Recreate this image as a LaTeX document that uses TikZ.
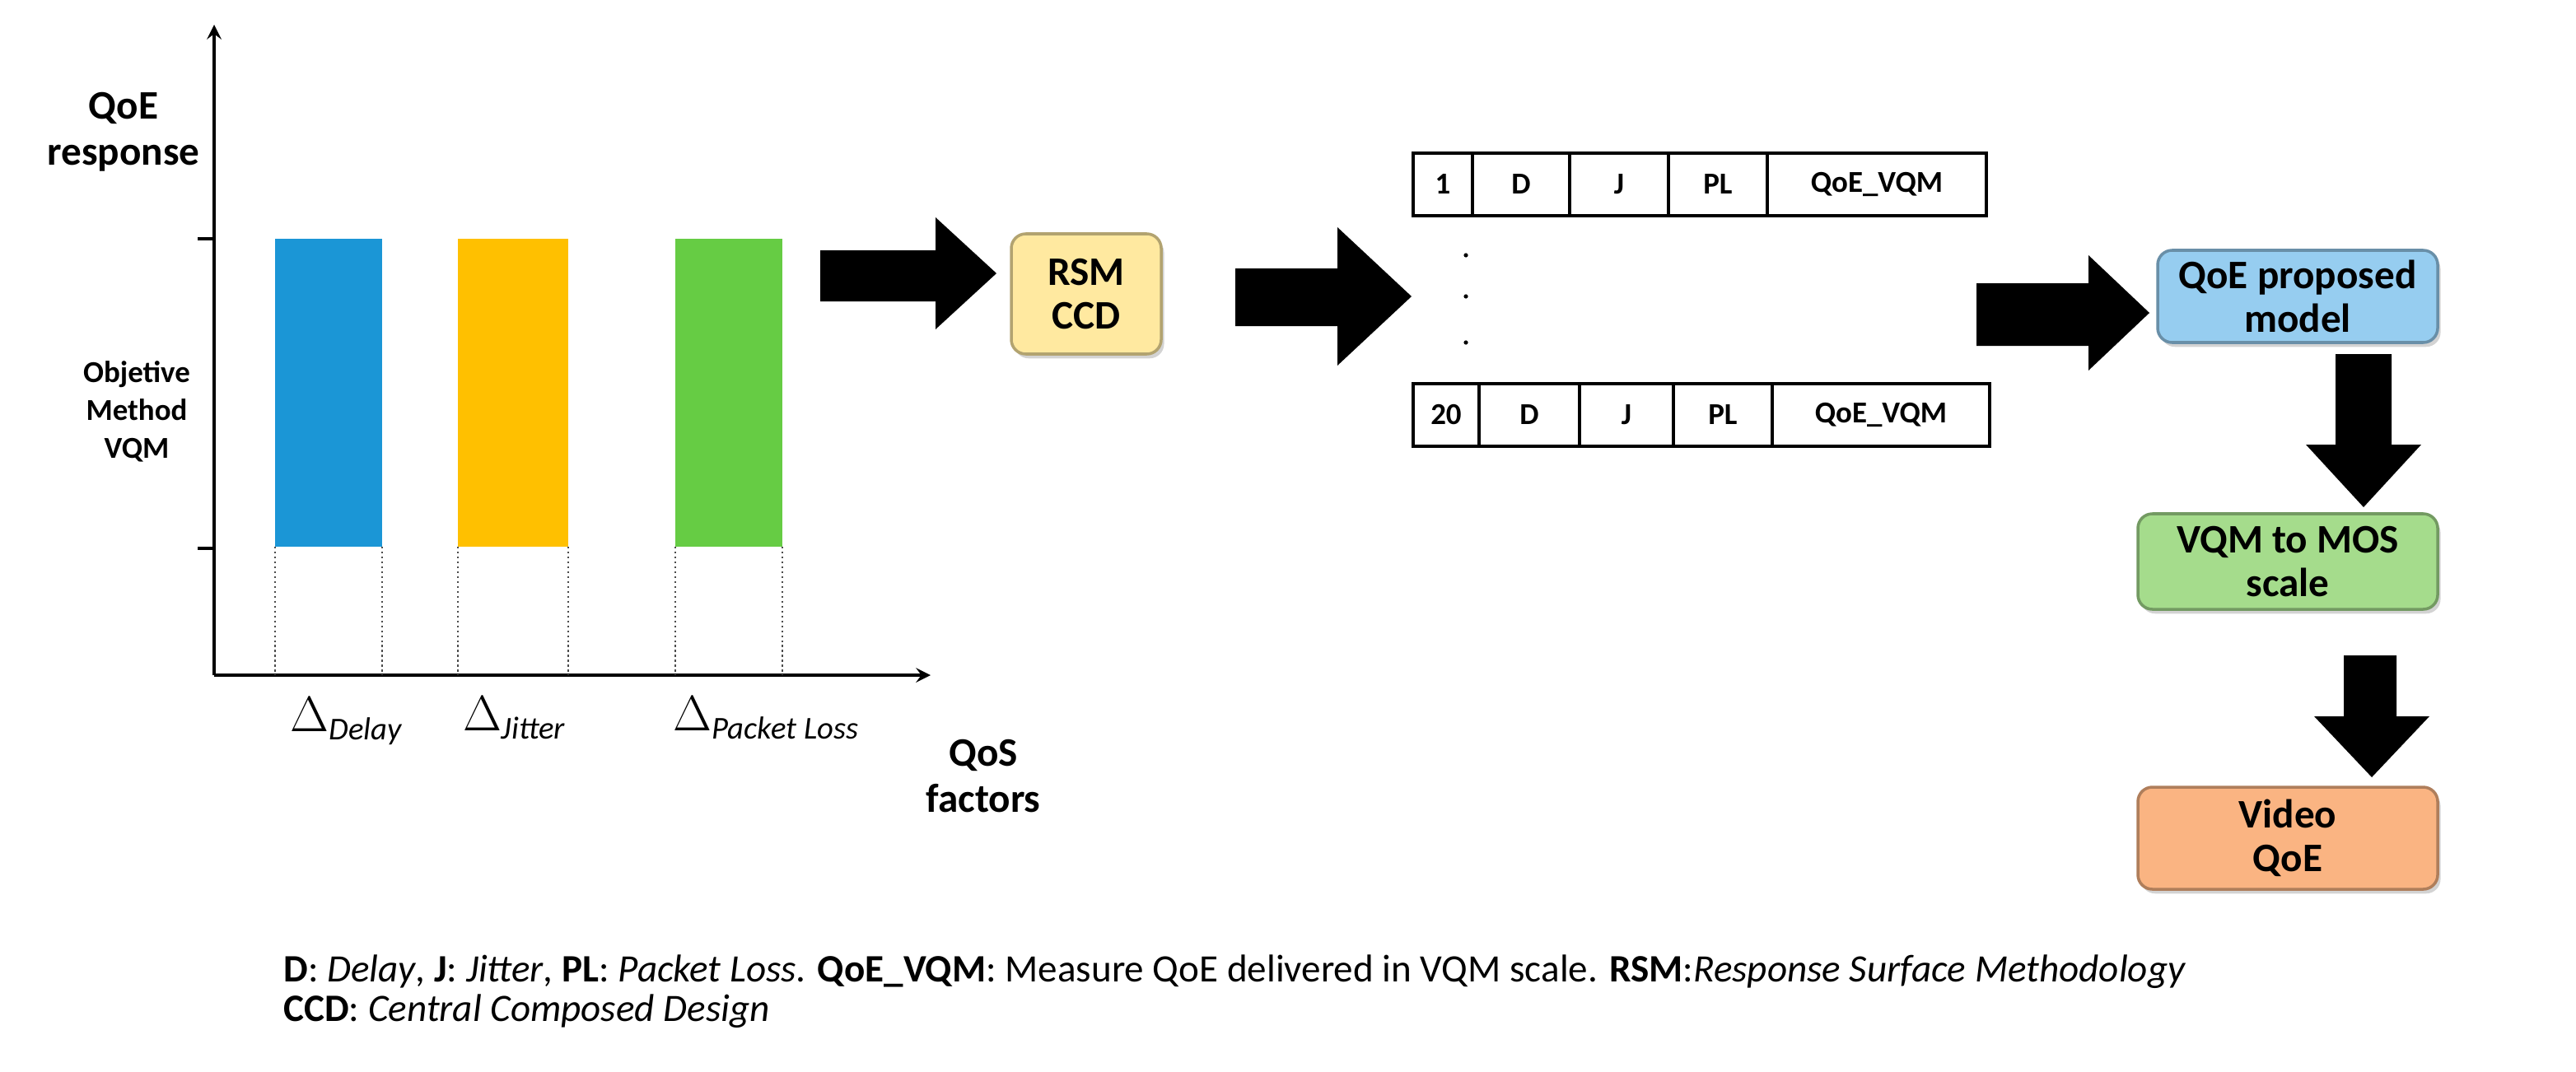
\documentclass[tikz,border=0pt]{standalone}
\usepackage{fontspec}
\setmainfont{Carlito}
\usetikzlibrary{shadows}
\begin{document}
\begin{tikzpicture}[x=0.02cm,y=-0.02cm,
 box/.style={draw=#1!70!black,rounded corners=5pt,line width=1pt,font=\fontsize{14}{15}\selectfont\bfseries,align=center,inner sep=0pt,drop shadow={opacity=0.35,shadow xshift=1pt,shadow yshift=-1.5pt}},
 cell/.style={draw,line width=1.1pt,font=\fontsize{10.5}{12}\selectfont\bfseries,inner sep=0pt,anchor=north west},
 blk/.style={fill=black},
 lab/.style={font=\fontsize{14}{16}\selectfont\bfseries,align=center}]
\useasboundingbox (0,0) rectangle (1564,650.5);
\definecolor{bblue}{RGB}{27,150,214}
\definecolor{borange}{RGB}{255,192,0}
\definecolor{bgreen}{RGB}{102,204,68}
\definecolor{yel}{RGB}{255,233,160}
\definecolor{lblue}{RGB}{150,205,240}
\definecolor{lgreen}{RGB}{165,220,140}
\definecolor{lorange}{RGB}{250,180,130}
% axes
\coordinate (o) at (130,410);
\coordinate (ytop) at (130,15);
\coordinate (xend) at (565,410);
\draw[line width=1.2pt,-stealth] (o) -- (ytop);
\draw[line width=1.2pt,-stealth] (o) -- (xend);
\draw[line width=1pt] (120,145) -- (130,145) (120,333) -- (130,333);
\node[lab] (qr) at (75,80) {QoE\\response};
\node[font=\fontsize{10.5}{13}\selectfont\bfseries,align=center] (om) at (83,250) {Objetive\\Method\\VQM};
\node[lab,anchor=north] (qf) at (597,443) {QoS\\factors};
% bars
\fill[bblue] (167,145) rectangle (232,332);
\fill[borange] (278,145) rectangle (345,332);
\fill[bgreen] (410,145) rectangle (475,332);
\draw[densely dotted,line width=0.7pt,black!70] (167,332)--(167,410) (232,332)--(232,410) (278,332)--(278,410) (345,332)--(345,410) (410,332)--(410,410) (475,332)--(475,410);
\node[font=\fontsize{16}{16}\selectfont] (dd) at (210,438) {$\Delta$\textit{\fontsize{11}{12}\selectfont\raisebox{-0.5ex}{Delay}}};
\node[font=\fontsize{16}{16}\selectfont] (dj) at (312,436) {$\Delta$\textit{\fontsize{11}{12}\selectfont\raisebox{-0.5ex}{Jitter}}};
\node[font=\fontsize{16}{16}\selectfont] (dp) at (465,436) {$\Delta$\textit{\fontsize{11}{12}\selectfont\raisebox{-0.5ex}{Packet Loss}}};
% block arrows
\fill[blk] (498,152) -- (568,152) -- (568,132) -- (605,166) -- (568,200) -- (568,183) -- (498,183) -- cycle;
\fill[blk] (750,163) -- (812,163) -- (812,138) -- (857,180) -- (812,222) -- (812,198) -- (750,198) -- cycle;
\fill[blk] (1200,172) -- (1268,172) -- (1268,155) -- (1305,190) -- (1268,225) -- (1268,210) -- (1200,210) -- cycle;
\fill[blk] (1418,215) -- (1452,215) -- (1452,270) -- (1470,270) -- (1435,308) -- (1400,270) -- (1418,270) -- cycle;
\fill[blk] (1423,398) -- (1455,398) -- (1455,435) -- (1475,435) -- (1440,472) -- (1405,435) -- (1423,435) -- cycle;
% boxes
\node[box=yel,fill=yel,minimum width=91*0.02cm,minimum height=73*0.02cm] (rsm) at (659.5,178.5) {RSM\\CCD};
\node[box=lblue,fill=lblue,minimum width=170*0.02cm,minimum height=56*0.02cm] (qpm) at (1395,180) {QoE proposed\\model};
\node[box=lgreen,fill=lgreen,minimum width=182*0.02cm,minimum height=58*0.02cm] (vqm) at (1389,341) {VQM to MOS\\scale};
\node[box=lorange,fill=lorange,minimum width=182*0.02cm,minimum height=62*0.02cm] (vq) at (1389,509) {Video\\QoE};
% table rows
\foreach \a/\b/\t [count=\i] in {857/893/1,893/952/D,952/1012/J,1012/1072/PL,1072/1205/QoE\_VQM}
  \node[cell,minimum width={(\b-\a)*0.02cm},minimum height=38*0.02cm] (r1c\i) at (\a,92) {\t};
\foreach \a/\b/\t [count=\i] in {857/897/20,897/958/D,958/1015/J,1015/1075/PL,1075/1207/QoE\_VQM}
  \node[cell,minimum width={(\b-\a)*0.02cm},minimum height=38*0.02cm] (r2c\i) at (\a,232) {\t};
\foreach \y [count=\i] in {155,180,208} \fill (890,\y) circle (1.3);
% legend
\node[anchor=west,font=\fontsize{13.4}{15}\selectfont] (l1) at (166,590) {\textbf{D}: \textit{Delay}, \textbf{J}: \textit{Jitter}, \textbf{PL}: \textit{Packet Loss}. \textbf{QoE\_VQM}: Measure QoE delivered in VQM scale. \textbf{RSM}:\textit{Response Surface Methodology}};
\node[anchor=west,font=\fontsize{13.4}{15}\selectfont] (l2) at (166,614) {\textbf{CCD}: \textit{Central Composed Design}};
\end{tikzpicture}
\end{document}
